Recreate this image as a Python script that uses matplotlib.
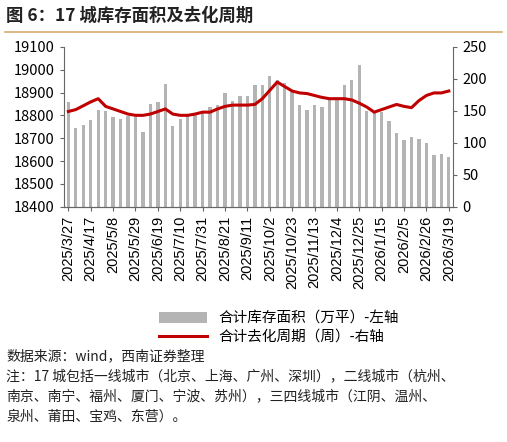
import matplotlib
matplotlib.use("Agg")
import matplotlib.pyplot as plt
import numpy as np
import pandas as pd

plt.rcParams['font.family'] = ['Noto Sans CJK SC', 'DejaVu Sans']

DATES = pd.date_range("2025-03-27", periods=52, freq="7D")
INVENTORY = [18857, 18744, 18759, 18779, 18825, 18818, 18793, 18785, 18796, 18794,
             18728, 18851, 18859, 18938, 18753, 18785, 18798, 18806, 18813, 18838,
             18847, 18899, 18865, 18885, 18887, 18932, 18931, 18971, 18956, 18941,
             18901, 18846, 18825, 18846, 18838, 18868, 18868, 18931, 18953, 19019,
             18818, 18821, 18813, 18774, 18725, 18693, 18706, 18699, 18679, 18626,
             18632, 18619]
CYCLE = [149, 152, 158, 164, 169, 157, 153, 149, 145, 143,
         143, 145, 149, 153, 145, 143, 143, 145, 148, 148,
         153, 157, 159, 159, 159, 160, 169, 182, 195, 188,
         181, 178, 177, 174, 171, 169, 169, 169, 167, 162,
         156, 148, 152, 156, 160, 157, 155, 166, 174, 178,
         178, 181]
LABELS = [f"{d.year}/{d.month}/{d.day}" for d in DATES]

fig = plt.figure(figsize=(5.07, 4.42), dpi=100)
ax = fig.add_axes([0.126, 0.532, 0.768, 0.362])
ax2 = ax.twinx()
x = np.arange(len(DATES))
bars = ax.bar(x, INVENTORY, width=0.45, color="#b4b4b4", label="合计库存面积（万平）-左轴")
line, = ax2.plot(x, CYCLE, color="#c00000", lw=2.2, label="合计去化周期（周）-右轴")

ax.set_ylim(18400, 19100)
ax.set_yticks(range(18400, 19101, 100))
ax2.set_ylim(0, 250)
ax2.set_yticks(range(0, 251, 50))
ax.set_xlim(-0.6, len(x) - 0.4)
ax.set_xticks(x[::3])
ax.set_xticklabels(LABELS[::3], rotation=90, fontsize=10, family=['Liberation Sans', 'DejaVu Sans'])
for a in (ax, ax2):
    a.tick_params(labelsize=10.5, color="#666666", length=3)
    a.spines["top"].set_visible(False)
    for s in a.spines.values():
        s.set_color("#666666")
ax.spines["right"].set_visible(False)
ax2.spines["left"].set_visible(False)

fig.legend([bars, line], [bars.get_label(), line.get_label()], loc="upper center",
           bbox_to_anchor=(0.55, 0.325), frameon=False, fontsize=10.5,
           handlelength=3.3, labelspacing=0.3)

fig.text(0.012, 0.985, "图 6：17 城库存面积及去化周期", fontsize=12.5, fontweight="bold",
         va="top", color="#222222")
fig.add_artist(plt.Line2D([0.01, 0.99], [0.927, 0.927], color="#d6ac6e", lw=1.2))
note = ("数据来源：wind，西南证券整理\n"
        "注：17 城包括一线城市（北京、上海、广州、深圳），二线城市（杭州、\n"
        "南京、南宁、福州、厦门、宁波、苏州），三四线城市（江阴、温州、\n"
        "泉州、莆田、宝鸡、东营）。")
fig.text(0.012, 0.21, note, fontsize=10, style="italic", va="top", linespacing=1.55,
         color="#222222")

fig.savefig("out.png", dpi=100)
